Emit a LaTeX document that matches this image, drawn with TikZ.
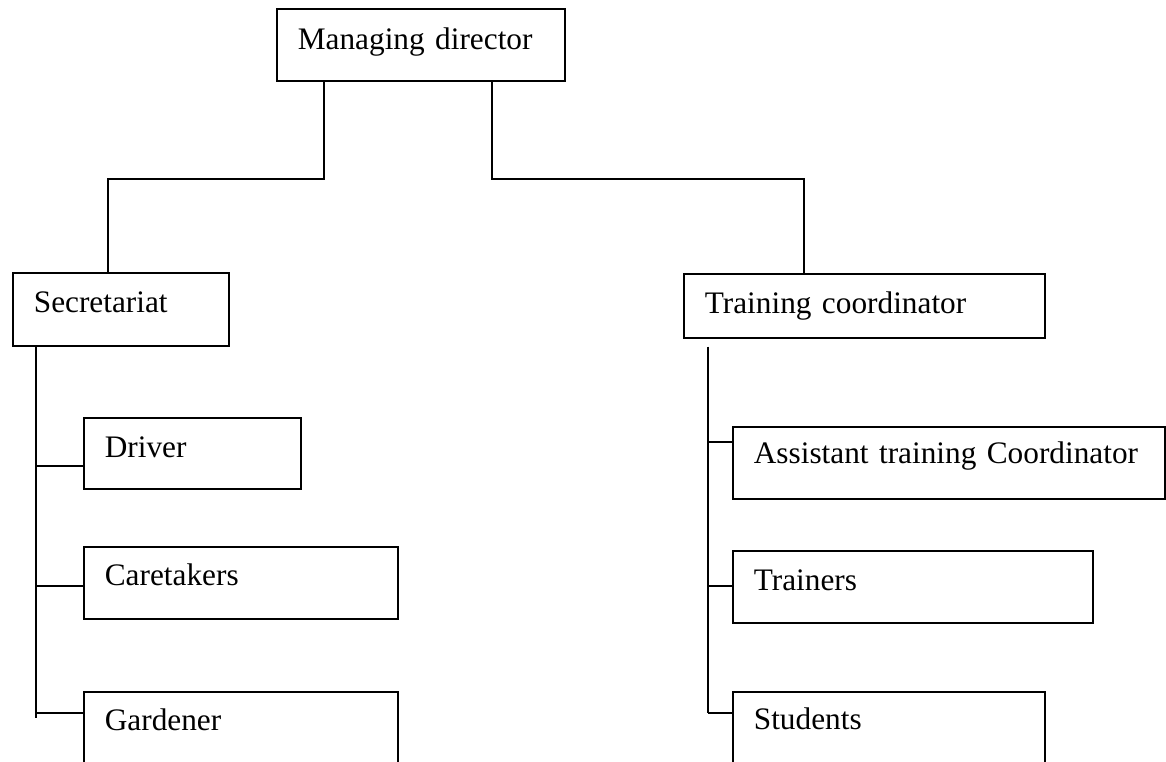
\documentclass[tikz,border=0pt]{standalone}
\usepackage{fontspec}
\setmainfont{Liberation Serif}
\usepackage{tikz}
\usetikzlibrary{calc}
\tikzset{
  orgbox/.style={rectangle, draw=black, line width=1.7pt, anchor=north west,
                 inner xsep=21pt, inner ysep=0pt, align=left, text height=40pt,
                 font=\fontsize{31.3}{38}\selectfont},
  conn/.style={draw=black, line width=1.7pt}
}
\begin{document}
\begin{tikzpicture}[x=1pt, y=-1pt]
\useasboundingbox (0,0) rectangle (1166,761);
\fill[white] (0,0) rectangle (1166,761);
\clip (0,0) rectangle (1166,761);
% top
\node[orgbox, text width=246pt, text height=41pt, text depth=31pt] (md) at (276,8) {Managing director};
% left branch
\node[orgbox, text width=174pt, text depth=33pt] (sec) at (12,272) {Secretariat};
\node[orgbox, text width=175pt, text depth=31pt] (drv) at (83,417) {Driver};
\node[orgbox, text width=272pt, text height=39pt, text depth=33pt] (care) at (83,546) {Caretakers};
\node[orgbox, text width=272pt, text height=39pt, text depth=45pt] (gard) at (83,691) {Gardener};
% right branch
\node[orgbox, text width=319pt, text depth=24pt] (tc) at (683,273) {Training coordinator};
\node[orgbox, text width=390pt, text height=37pt, text depth=35pt] (asst) at (732,426) {Assistant training Coordinator};
\node[orgbox, text width=318pt, text depth=32pt] (train) at (732,550) {Trainers};
\node[orgbox, text width=270pt, text height=38pt, text depth=45pt] (stud) at (732,691) {Students};

\draw[conn] ($(md.south west)+(48,0)$) -- ++(0,97) -| ($(sec.north west)+(96,0)$);
\draw[conn] ($(md.south west)+(216,0)$) -- ++(0,97) -| ($(tc.north west)+(121,0)$);

% staff lines
\draw[conn] ($(sec.south west)+(24,0)$) -- ($(gard.north west)+(-47,27)$);
\foreach \b/\dy in {drv/49, care/40, gard/22}
  \draw[conn] ($(\b.north west)+(0,\dy)$) -- ++(-47,0);
\draw[conn] ($(tc.south west)+(25,8)$) -- ($(stud.north west)+(-24,22)$);
\foreach \b/\dy in {asst/16, train/36, stud/22}
  \draw[conn] ($(\b.north west)+(0,\dy)$) -- ++(-24,0);
\end{tikzpicture}
\end{document}
